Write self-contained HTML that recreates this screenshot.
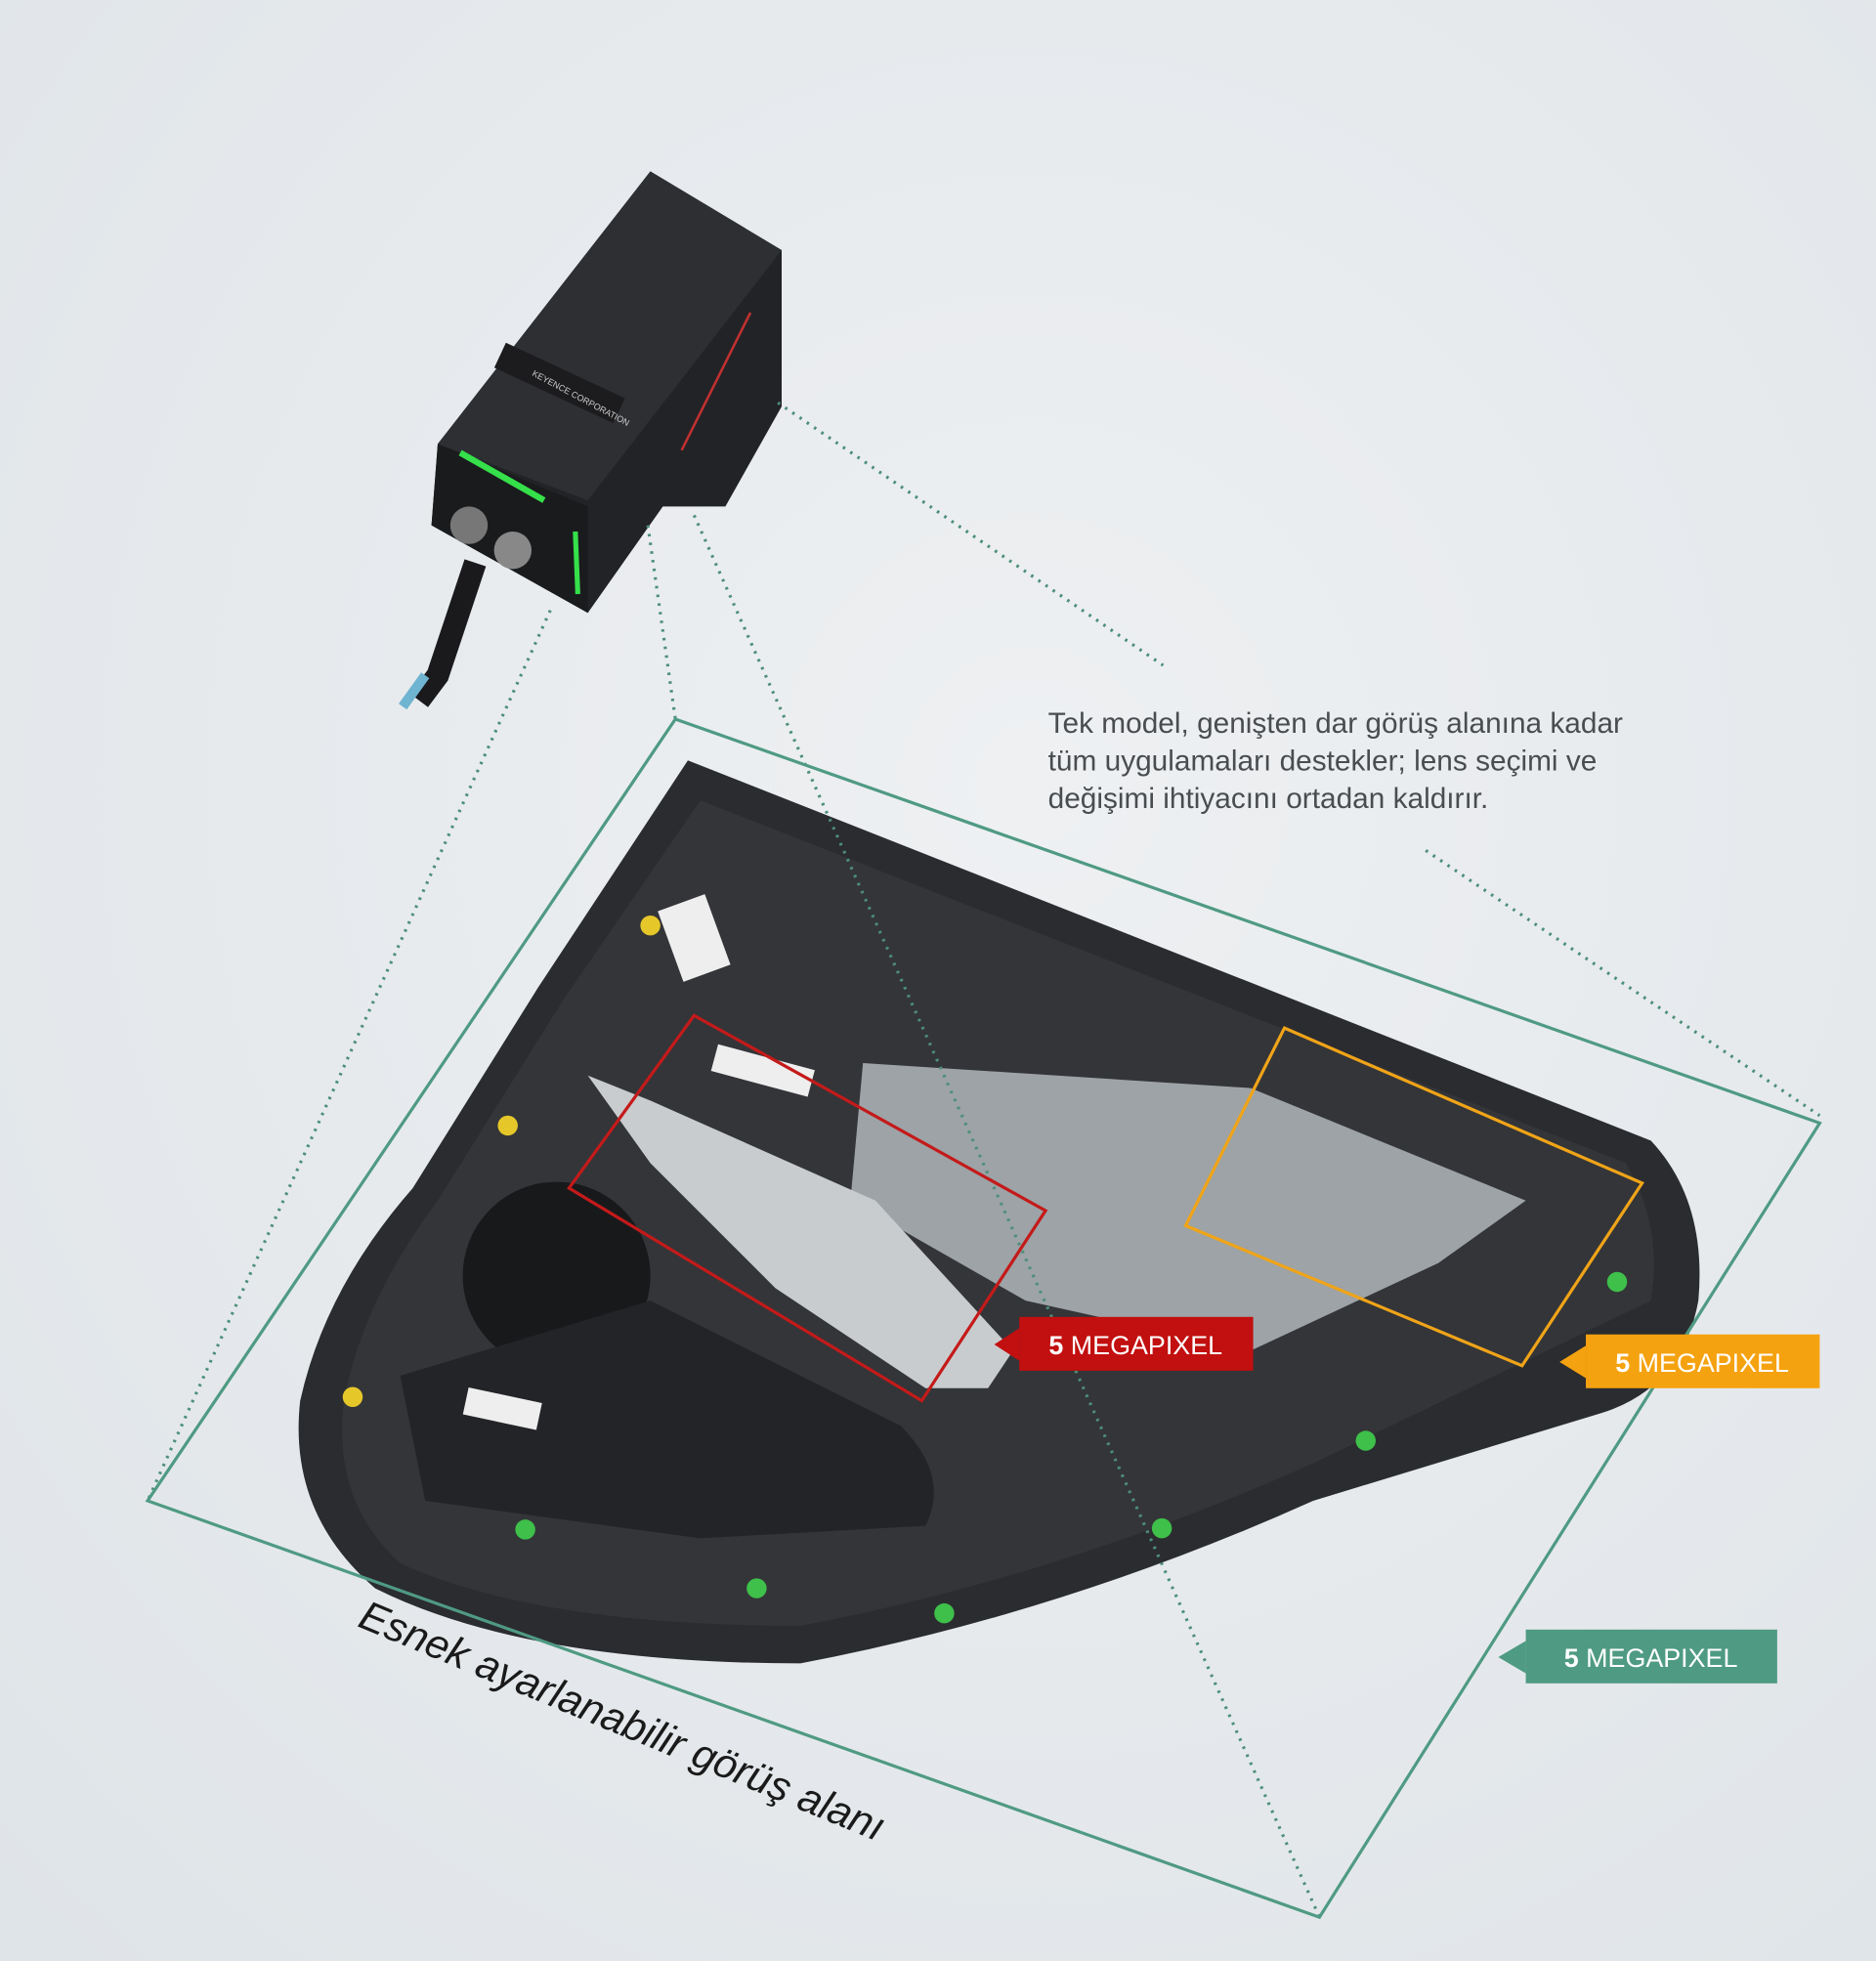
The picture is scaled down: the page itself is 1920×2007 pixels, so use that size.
<!DOCTYPE html>
<html><head><meta charset="utf-8"><style>
html,body{margin:0;padding:0;width:1920px;height:2007px;overflow:hidden;}
body{background:linear-gradient(160deg,#eceef1 0%,#e1e6ea 50%,#e6e9ec 100%);}
svg{display:block}
</style></head><body>
<svg width="1920" height="2007" viewBox="0 0 1500 1568" xmlns="http://www.w3.org/2000/svg">
<defs>
<radialGradient id="bg" cx="0.55" cy="0.4" r="0.8"><stop offset="0" stop-color="#eef0f2"/><stop offset="1" stop-color="#dfe4e8"/></radialGradient>
</defs>
<rect width="1500" height="1568" fill="url(#bg)"/>
<path d="M550,608 L1320,912 Q1365,960 1358,1040 Q1345,1110 1280,1130 L1050,1200 Q850,1290 640,1330 Q420,1330 300,1270 Q230,1210 240,1120 Q260,1030 330,950 L430,790 Z" fill="#2b2c2f"/>
<path d="M560,640 L1300,930 Q1330,980 1320,1040 L1050,1170 Q850,1260 640,1300 Q430,1300 320,1250 Q265,1200 275,1120 Q290,1040 350,960 L450,800 Z" fill="#343538"/>
<path d="M690,850 L1000,870 L1220,960 L1150,1010 L1000,1080 L820,1040 L680,960 Z" fill="#a9afb3" opacity="0.9"/>
<path d="M470,860 L520,880 L700,960 L810,1080 L790,1110 L740,1110 L620,1030 L520,930 Z" fill="#c9ccce"/>
<circle cx="445" cy="1020" r="75" fill="#18191b"/>
<path d="M320,1100 L520,1040 L720,1140 Q760,1180 740,1220 L560,1230 L340,1200 Z" fill="#232427"/>
<rect x="535" y="720" width="40" height="60" fill="#eee" transform="rotate(-20 555 750)"/>
<rect x="570" y="845" width="80" height="22" fill="#eee" transform="rotate(15 610 856)"/>
<rect x="372" y="1115" width="60" height="22" fill="#eee" transform="rotate(12 400 1125)"/>
<g fill="#3ec04a"><circle cx="1293" cy="1025" r="8"/><circle cx="1092" cy="1152" r="8"/><circle cx="929" cy="1222" r="8"/><circle cx="755" cy="1290" r="8"/><circle cx="605" cy="1270" r="8"/><circle cx="420" cy="1223" r="8"/></g>
<g fill="#e6c72a"><circle cx="520" cy="740" r="8"/><circle cx="406" cy="900" r="8"/><circle cx="282" cy="1117" r="8"/></g>
<path d="M520,137 L625,200 L625,325 L580,405 L530,405 L470,490 L345,420 L350,355 Z" fill="#222326"/>
<path d="M520,137 L625,200 L470,400 L350,355 Z" fill="#2e2f33"/>
<path d="M350,355 L470,405 L470,490 L345,420 Z" fill="#1a1b1d"/>
<line x1="368" y1="362" x2="435" y2="400" stroke="#35e04a" stroke-width="5"/>
<line x1="460" y1="425" x2="462" y2="475" stroke="#35e04a" stroke-width="4"/>
<line x1="600" y1="250" x2="545" y2="360" stroke="#c03030" stroke-width="2"/>
<rect x="395" y="295" width="105" height="22" fill="#1c1c1e" transform="rotate(25 447 306)"/>
<text x="425" y="300" font-family="Liberation Sans" font-size="7" fill="#ccc" transform="rotate(28 425 300)">KEYENCE CORPORATION</text>
<path d="M380,450 L350,540 L335,560" stroke="#1a1a1c" stroke-width="18" fill="none"/>
<path d="M340,540 L322,565" stroke="#6fb4d0" stroke-width="8" fill="none"/>
<circle cx="375" cy="420" r="15" fill="#777"/><circle cx="410" cy="440" r="15" fill="#888"/>
<g stroke="#4c8f78" stroke-width="2.5" stroke-dasharray="2 5" fill="none">
<line x1="622" y1="322" x2="930" y2="532"/>
<line x1="1140" y1="680" x2="1455" y2="892"/>
<line x1="440" y1="488" x2="118" y2="1200"/>
<line x1="518" y1="420" x2="540" y2="575"/>
<line x1="555" y1="412" x2="1055" y2="1533"/>
</g>
<polygon points="540,575 1455,898 1055,1533 118,1200" fill="none" stroke="#4f9a82" stroke-width="2.5"/>
<polygon points="555,812 836,968 737,1120 455,950" fill="none" stroke="#c41a1a" stroke-width="2.5"/>
<polygon points="1027,822 1313,946 1217,1092 948,980" fill="none" stroke="#f0a418" stroke-width="2.5"/>
<polygon points="795,1075 815,1062 815,1088" fill="#c20f0f"/>
<rect x="815" y="1053" width="187" height="43" fill="#c20f0f"/>
<text x="908" y="1083" text-anchor="middle" font-family="Liberation Sans" font-size="21" fill="#fff"><tspan font-weight="bold">5</tspan> MEGAPIXEL</text>
<polygon points="1247,1089 1268,1076 1268,1102" fill="#f5a210"/>
<rect x="1268" y="1067" width="187" height="43" fill="#f5a210"/>
<text x="1361" y="1097" text-anchor="middle" font-family="Liberation Sans" font-size="21" fill="#fff"><tspan font-weight="bold">5</tspan> MEGAPIXEL</text>
<polygon points="1198,1325 1220,1312 1220,1338" fill="#4f9a82"/>
<rect x="1220" y="1303" width="201" height="43" fill="#4f9a82"/>
<text x="1320" y="1333" text-anchor="middle" font-family="Liberation Sans" font-size="21" fill="#fff"><tspan font-weight="bold">5</tspan> MEGAPIXEL</text>
<g font-family="Liberation Sans" font-size="23.3" fill="#4a4d50">
<text x="838" y="586">Tek model, genişten dar görüş alanına kadar</text>
<text x="838" y="616">tüm uygulamaları destekler; lens seçimi ve</text>
<text x="838" y="646">değişimi ihtiyacını ortadan kaldırır.</text>
</g>
<text x="285" y="1300" font-family="Liberation Sans" font-size="33" font-style="italic" fill="#1a1a1a" transform="rotate(22.5 285 1300)">Esnek ayarlanabilir görüş alanı</text>
</svg>
</body></html>
